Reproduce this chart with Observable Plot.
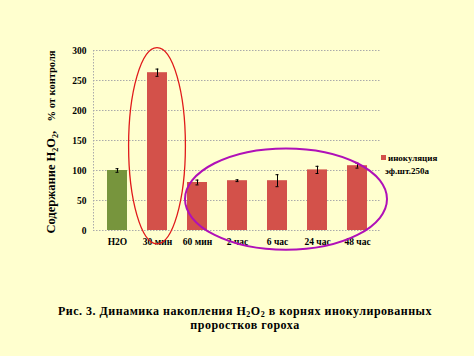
<!DOCTYPE html>
<html><head><meta charset="utf-8">
<script src="https://cdn.jsdelivr.net/npm/d3@7"></script>
<script src="https://cdn.jsdelivr.net/npm/@observablehq/plot@0.6"></script>
<style>
html,body{margin:0;padding:0;background:#ffffcf;}
svg{display:block;}
</style>
</head><body>
<div id="chart"></div>
<script>
const categories = ["H2O","30 мин","60 мин","2 час","6 час","24 час","48 час"];
const values = [100, 263, 80, 83, 83, 101, 108];
const errors = [3, 6, 4, 1.5, 10, 6, 4];
const groups = ["control","inoc","inoc","inoc","inoc","inoc","inoc"];
const yTicks = [0,50,100,150,200,250,300];
const legendLines = ["инокуляция","эф.шт.250а"];
const captionLines = ["Рис. 3. Динамика накопления H|2|O|2| в корнях инокулированных","проростков гороха"];

const data = categories.map((c,i)=>({cat:c, v:values[i], e:errors[i], g:groups[i]}));
const serif = "'Liberation Serif','Times New Roman',serif";

const plot = Plot.plot({
  width: 474, height: 356,
  marginLeft: 93, marginRight: 93, marginTop: 50, marginBottom: 126,
  style: {background:"transparent", fontFamily: serif, fontWeight:"bold", fontSize:"9px", color:"#000"},
  x: {domain: categories, paddingInner: 0.5, paddingOuter: 0.35, label: null},
  y: {domain: [0,300], ticks: yTicks, label: null},
  color: {domain:["control","inoc"], range:["#77953d","#d3514a"]},
  marks: [
    Plot.gridY(yTicks, {stroke:"#aaa", strokeOpacity:1, strokeDasharray:"1.5,1.5"}),
    Plot.barY(data, {x:"cat", y:"v", fill:"g"}),
    Plot.ruleX(data, {x:"cat", y1:d=>d.v-d.e, y2:d=>d.v+d.e, stroke:"#000", strokeWidth:1}),
    Plot.tickY(data, {x:"cat", y:d=>d.v+d.e, stroke:"#000", inset: 8.5}),
    Plot.tickY(data, {x:"cat", y:d=>d.v-d.e, stroke:"#000", inset: 8.5}),
    Plot.axisX({tickSize:0, tickPadding:8, fontSize:"9.5px"}),
    Plot.axisY({ticks: yTicks, tickSize:0, tickPadding:7, fontSize:"9.5px"})
  ]
});
document.getElementById("chart").appendChild(plot);

const svg = d3.select(plot);
const x = plot.scale("x"), y = plot.scale("y");
const bw = x.bandwidth;
const xc = c => x.apply(c) + bw/2;

// left axis line (dotted)
svg.append("line").attr("x1", 93.5).attr("x2", 93.5).attr("y1", y.apply(300)).attr("y2", y.apply(0))
  .attr("stroke","#aaa").attr("stroke-dasharray","1.5,1.5");

// annotation ellipses
svg.append("ellipse")
  .attr("cx", xc("30 мин")).attr("cy", (y.apply(304) + y.apply(-23))/2)
  .attr("rx", bw*1.42).attr("ry", (y.apply(-23) - y.apply(304))/2)
  .attr("fill","none").attr("stroke","#e01a1a").attr("stroke-width",1.3);
const left = x.apply("60 мин") - 2, right = x.apply("48 час") + bw + 20;
svg.append("ellipse")
  .attr("cx", (left+right)/2).attr("cy", (y.apply(136)+y.apply(-33))/2)
  .attr("rx", (right-left)/2).attr("ry", (y.apply(-33)-y.apply(136))/2)
  .attr("fill","none").attr("stroke","#b010b8").attr("stroke-width",2);

// legend
const lx = x.apply("48 час") + bw + 14, ly = y.apply(120);
svg.append("rect").attr("x", lx).attr("y", ly-3).attr("width",5).attr("height",5).attr("fill","#d3514a");
const lt = svg.append("text").attr("text-anchor","start").attr("font-family", serif).attr("font-weight","bold").attr("font-size","9px").attr("fill","#000");
legendLines.forEach((s,i)=>lt.append("tspan").attr("x", lx+7 - (i?3:0)).attr("y", ly+2.5 + i*13).text(s));

// y axis title
const cyT = (y.apply(0)+y.apply(300))/2 + 2;
const yt = svg.append("text").attr("transform", `translate(55,${cyT}) rotate(-90)`)
  .attr("text-anchor","middle").attr("font-family", serif).attr("font-weight","bold").attr("fill","#000");
yt.append("tspan").attr("font-size","12.5px").text("Содержание H");
yt.append("tspan").attr("font-size","8px").attr("dy","3").text("2");
yt.append("tspan").attr("font-size","12.5px").attr("dy","-3").text("O");
yt.append("tspan").attr("font-size","8px").attr("dy","3").text("2");
yt.append("tspan").attr("font-size","12.5px").attr("dy","-3").text(",   ");
yt.append("tspan").attr("font-size","10.5px").text("% от контроля");

// caption
captionLines.forEach((line,i)=>{
  const t = svg.append("text").attr("x", 245).attr("y", 315 + i*14).attr("text-anchor","middle")
    .attr("font-family", serif).attr("font-weight","bold").attr("font-size","12px")
    .attr("letter-spacing","0.5px").attr("fill","#000");
  line.split("|").forEach((part,j)=>{
    if (j%2===1) t.append("tspan").attr("font-size","8px").attr("dy","2").text(part);
    else t.append("tspan").attr("dy", j>0 ? "-2" : "0").text(part);
  });
});
</script>
</body></html>
